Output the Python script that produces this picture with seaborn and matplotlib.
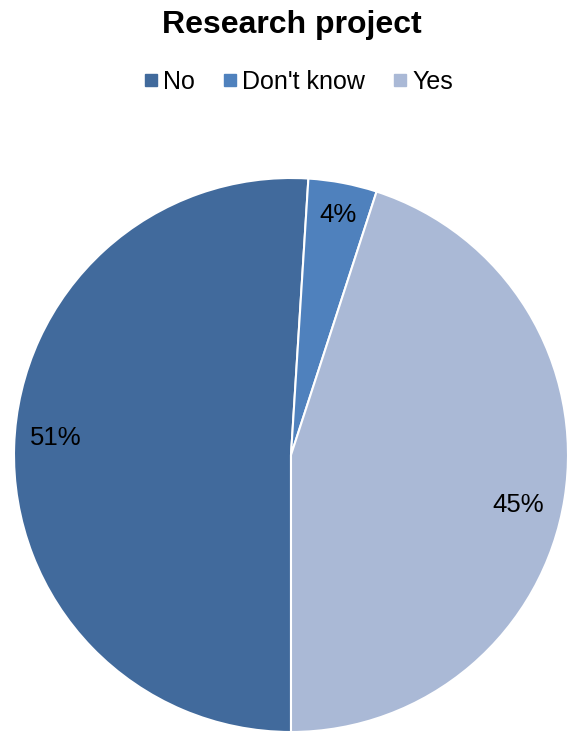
import matplotlib
matplotlib.use("Agg")
import matplotlib.pyplot as plt
import seaborn as sns
from matplotlib.lines import Line2D

sns.set_theme(style="white")
plt.rcParams['font.family'] = ['Liberation Sans', 'DejaVu Sans']
plt.rcParams['text.color'] = 'black'

categories = ["No", "Don't know", "Yes"]
shares = [51, 4, 45]
colors = ["#416A9C", "#4F81BD", "#AAB9D6"]
title = "Research project"

fig = plt.figure(figsize=(5.70, 7.34), dpi=100)
ax = fig.add_axes([14 / 570, 2 / 734, 554 / 570, 554 / 734])

wedges, texts, autotexts = ax.pie(
    shares, colors=colors, startangle=270, counterclock=False,
    autopct=lambda p: f"{p:.0f}%", pctdistance=0.85,
    wedgeprops=dict(edgecolor="white", linewidth=1.5),
    textprops=dict(fontsize=18.5, color="black"),
)
# nudge the percentage labels to their best-fit spots
nudges = [(0.0, 0.033), (0.01, 0.033), (-0.02, -0.047)]
for t, (dx, dy) in zip(autotexts, nudges):
    x, y = t.get_position()
    t.set_position((x + dx, y + dy))

ax.set_xlim(-1.0, 1.0)
ax.set_ylim(-1.0, 1.0)
ax.set_aspect("equal")
ax.axis("off")

fig.text(292 / 570, 1 - 25 / 734, title, ha="center", va="center",
         fontsize=23, fontweight="bold", color="black")

handles = [Line2D([], [], marker="s", linestyle="none", markersize=8,
                  markerfacecolor=c, markeredgecolor=c) for c in colors]
fig.legend(handles, categories, loc="center", bbox_to_anchor=(297 / 570, 1 - 82 / 734),
           ncol=3, frameon=False, fontsize=18, handletextpad=0.1,
           columnspacing=1.0, handlelength=0.8, labelcolor="black")

fig.savefig("out.png", dpi=100)
